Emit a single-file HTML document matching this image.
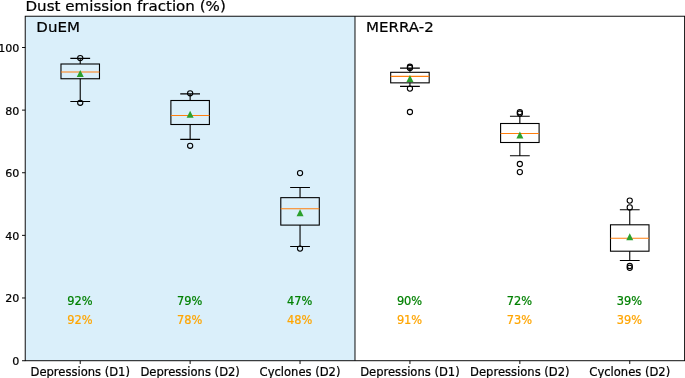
<!DOCTYPE html>
<html lang="en"><head><meta charset="utf-8"><title>Dust emission fraction</title>
<style>html,body{margin:0;padding:0;background:#fff;overflow:hidden}svg{display:block}text{font-family:"DejaVu Sans","Liberation Sans",sans-serif;fill:#000;stroke:#000;stroke-width:0.22px}</style></head><body>
<svg width="685" height="378" viewBox="0 0 685 378">
<rect x="0" y="0" width="685" height="378" fill="#fff"/>
<rect x="25.28" y="16.2" width="329.71" height="344.40" fill="#daeffa"/>
<text transform="translate(25.5 10.7) scale(1 0.965)" font-size="15.1">Dust emission fraction (%)</text>
<text transform="translate(36.3 32.1) scale(1 0.955)" font-size="15.05">DuEM</text>
<text transform="translate(366.0 32.1) scale(1 0.955)" font-size="15.05">MERRA-2</text>
<g fill="none" stroke="#000" stroke-width="1.1">
<rect x="60.98" y="64.0" width="38.5" height="14.75"/>
<path d="M80.23 64.0V58.4M80.23 78.75V101.5M70.33 58.4H90.13M70.33 101.5H90.13"/>
<circle cx="80.23" cy="58.1" r="2.6"/>
<circle cx="80.23" cy="102.8" r="2.6"/>
</g>
<path d="M60.98 72.05H99.48" stroke="#ff7f0e" stroke-width="1.1" fill="none"/>
<path d="M80.23 70.00L76.73 76.90L83.73 76.90Z" fill="#2ca02c"/>
<g fill="none" stroke="#000" stroke-width="1.1">
<rect x="170.89" y="100.5" width="38.5" height="24.00"/>
<path d="M190.14 100.5V93.9M190.14 124.5V139.4M180.24 93.9H200.04M180.24 139.4H200.04"/>
<circle cx="190.14" cy="93.3" r="2.6"/>
<circle cx="190.14" cy="145.8" r="2.6"/>
</g>
<path d="M170.89 115.5H209.39" stroke="#ff7f0e" stroke-width="1.1" fill="none"/>
<path d="M190.14 110.80L186.64 117.70L193.64 117.70Z" fill="#2ca02c"/>
<g fill="none" stroke="#000" stroke-width="1.1">
<rect x="280.79" y="197.65" width="38.5" height="27.45"/>
<path d="M300.04 197.65V187.45M300.04 225.1V246.5M290.14 187.45H309.94M290.14 246.5H309.94"/>
<circle cx="300.04" cy="173.1" r="2.6"/>
<circle cx="300.04" cy="248.6" r="2.6"/>
</g>
<path d="M280.79 208.7H319.29" stroke="#ff7f0e" stroke-width="1.1" fill="none"/>
<path d="M300.04 209.30L296.54 216.20L303.54 216.20Z" fill="#2ca02c"/>
<g fill="none" stroke="#000" stroke-width="1.1">
<rect x="390.69" y="72.3" width="38.5" height="10.55"/>
<path d="M409.94 72.3V68.1M409.94 82.85V86.4M400.04 68.1H419.84M400.04 86.4H419.84"/>
<circle cx="409.94" cy="66.7" r="2.6"/>
<circle cx="409.94" cy="67.9" r="2.6"/>
<circle cx="409.94" cy="88.6" r="2.6"/>
<circle cx="409.94" cy="112.0" r="2.6"/>
</g>
<path d="M390.69 76.4H429.19" stroke="#ff7f0e" stroke-width="1.1" fill="none"/>
<path d="M409.94 75.00L406.44 81.90L413.44 81.90Z" fill="#2ca02c"/>
<g fill="none" stroke="#000" stroke-width="1.1">
<rect x="500.60" y="123.5" width="38.5" height="19.00"/>
<path d="M519.85 123.5V116.3M519.85 142.5V155.8M509.95 116.3H529.75M509.95 155.8H529.75"/>
<circle cx="519.85" cy="112.1" r="2.6"/>
<circle cx="519.85" cy="113.5" r="2.6"/>
<circle cx="519.85" cy="164.0" r="2.6"/>
<circle cx="519.85" cy="172.1" r="2.6"/>
</g>
<path d="M500.60 133.5H539.10" stroke="#ff7f0e" stroke-width="1.1" fill="none"/>
<path d="M519.85 131.60L516.35 138.50L523.35 138.50Z" fill="#2ca02c"/>
<g fill="none" stroke="#000" stroke-width="1.1">
<rect x="610.50" y="224.8" width="38.5" height="26.40"/>
<path d="M629.75 224.8V209.7M629.75 251.2V260.5M619.85 209.7H639.65M619.85 260.5H639.65"/>
<circle cx="629.75" cy="200.6" r="2.6"/>
<circle cx="629.75" cy="207.4" r="2.6"/>
<circle cx="629.75" cy="266.0" r="2.6"/>
<circle cx="629.75" cy="267.85" r="2.6"/>
</g>
<path d="M610.50 238.2H649.00" stroke="#ff7f0e" stroke-width="1.1" fill="none"/>
<path d="M629.75 233.30L626.25 240.20L633.25 240.20Z" fill="#2ca02c"/>
<text x="79.83" y="305.1" font-size="11.4" text-anchor="middle" style="fill:#008000;stroke:#008000">92%</text>
<text x="79.83" y="323.7" font-size="11.4" text-anchor="middle" style="fill:#ffa500;stroke:#ffa500">92%</text>
<text x="189.74" y="305.1" font-size="11.4" text-anchor="middle" style="fill:#008000;stroke:#008000">79%</text>
<text x="189.74" y="323.7" font-size="11.4" text-anchor="middle" style="fill:#ffa500;stroke:#ffa500">78%</text>
<text x="299.64" y="305.1" font-size="11.4" text-anchor="middle" style="fill:#008000;stroke:#008000">47%</text>
<text x="299.64" y="323.7" font-size="11.4" text-anchor="middle" style="fill:#ffa500;stroke:#ffa500">48%</text>
<text x="409.54" y="305.1" font-size="11.4" text-anchor="middle" style="fill:#008000;stroke:#008000">90%</text>
<text x="409.54" y="323.7" font-size="11.4" text-anchor="middle" style="fill:#ffa500;stroke:#ffa500">91%</text>
<text x="519.45" y="305.1" font-size="11.4" text-anchor="middle" style="fill:#008000;stroke:#008000">72%</text>
<text x="519.45" y="323.7" font-size="11.4" text-anchor="middle" style="fill:#ffa500;stroke:#ffa500">73%</text>
<text x="629.35" y="305.1" font-size="11.4" text-anchor="middle" style="fill:#008000;stroke:#008000">39%</text>
<text x="629.35" y="323.7" font-size="11.4" text-anchor="middle" style="fill:#ffa500;stroke:#ffa500">39%</text>
<g fill="none" stroke="#000" stroke-width="0.95">
<rect x="25.22" y="16.23" width="659.40" height="344.49"/>
<path d="M354.99 16.23V360.72"/>
<path d="M25.22 360.72h-3.2M25.22 297.98h-3.2M25.22 235.36h-3.2M25.22 172.74h-3.2M25.22 110.12h-3.2M25.22 47.50h-3.2M80.23 360.72v3.3M190.14 360.72v3.3M300.04 360.72v3.3M409.94 360.72v3.3M519.85 360.72v3.3M629.75 360.72v3.3"/>
</g>
<text x="19.3" y="365.10" font-size="11.1" text-anchor="end">0</text>
<text x="19.3" y="302.48" font-size="11.1" text-anchor="end">20</text>
<text x="19.3" y="239.86" font-size="11.1" text-anchor="end">40</text>
<text x="19.3" y="177.24" font-size="11.1" text-anchor="end">60</text>
<text x="19.3" y="114.62" font-size="11.1" text-anchor="end">80</text>
<text x="19.3" y="52.00" font-size="11.1" text-anchor="end">100</text>
<text x="80.23" y="376.3" font-size="11.56" text-anchor="middle">Depressions (D1)</text>
<text x="190.14" y="376.3" font-size="11.56" text-anchor="middle">Depressions (D2)</text>
<text x="300.04" y="376.3" font-size="11.56" text-anchor="middle">Cyclones (D2)</text>
<text x="409.94" y="376.3" font-size="11.56" text-anchor="middle">Depressions (D1)</text>
<text x="519.85" y="376.3" font-size="11.56" text-anchor="middle">Depressions (D2)</text>
<text x="629.75" y="376.3" font-size="11.56" text-anchor="middle">Cyclones (D2)</text>
</svg></body></html>
